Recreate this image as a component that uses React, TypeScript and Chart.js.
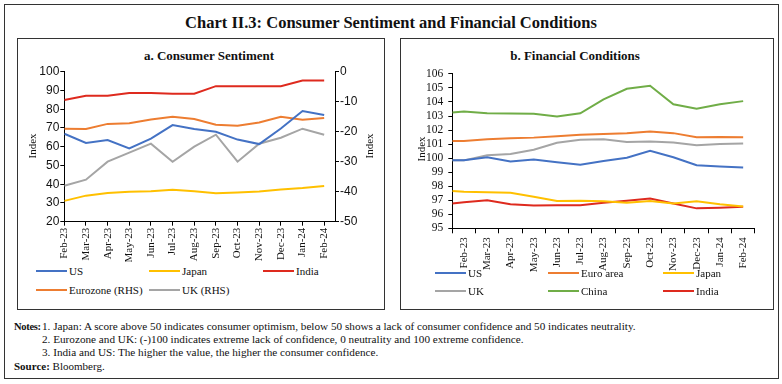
import React, { useEffect, useRef } from "react";
import { Chart, registerables } from "chart.js";
Chart.register(...registerables);

// ---------- Data ----------
const months = ["Feb-23", "Mar-23", "Apr-23", "May-23", "Jun-23", "Jul-23", "Aug-23", "Sep-23", "Oct-23", "Nov-23", "Dec-23", "Jan-24", "Feb-24"];

// a. Consumer Sentiment
const csUS = [66.9, 62.0, 63.6, 59.1, 64.3, 71.5, 69.4, 68.0, 63.8, 61.4, 69.7, 79.0, 76.9];
const csJapan = [31.1, 33.9, 35.3, 36.0, 36.2, 37.1, 36.2, 35.2, 35.6, 36.1, 37.2, 38.0, 39.1];
const csIndia = [84.9, 87.2, 87.2, 88.7, 88.7, 88.3, 88.3, 92.3, 92.3, 92.3, 92.3, 95.3, 95.3];
const csEurozone = [-19.0, -19.1, -17.4, -17.2, -15.9, -15.0, -15.8, -17.7, -18.0, -16.9, -15.0, -16.0, -15.4];
const csUK = [-38, -36, -30, -27, -24, -30, -25, -21, -30, -24, -22, -19, -21];

// b. Financial Conditions (first value = opening reading of the period, then one per month)
const fcUS = [99.84, 99.84, 100.06, 99.76, 99.9, 99.71, 99.52, 99.8, 100.03, 100.52, 100.06, 99.49, 99.4, 99.33];
const fcEuroArea = [101.22, 101.22, 101.35, 101.42, 101.46, 101.55, 101.66, 101.72, 101.77, 101.9, 101.78, 101.49, 101.51, 101.49];
const fcJapan = [97.65, 97.6, 97.56, 97.53, 97.25, 96.95, 96.97, 96.93, 96.82, 96.95, 96.77, 96.93, 96.72, 96.55];
const fcUK = [99.84, 99.84, 100.2, 100.3, 100.6, 101.1, 101.3, 101.35, 101.15, 101.18, 101.12, 100.92, 101.0, 101.05];
const fcChina = [103.25, 103.32, 103.2, 103.18, 103.16, 102.96, 103.19, 104.18, 104.94, 105.15, 103.84, 103.52, 103.83, 104.06];
const fcIndia = [96.77, 96.85, 97.0, 96.72, 96.62, 96.64, 96.64, 96.82, 96.97, 97.12, 96.76, 96.42, 96.46, 96.53];

// ---------- Styles ----------
const C_BLUE = "#4472C4";
const C_ORANGE = "#ED7D31";
const C_GRAY = "#A5A5A5";
const C_YELLOW = "#FFC000";
const C_GREEN = "#70AD47";
const C_RED = "#DE2A1E";
const SERIF = "'Liberation Serif', serif";
const SANS = "'Liberation Sans', sans-serif";

function series(label: string, values: number[], color: string, xOf: (i: number) => number, axis = "y") {
  return {
    label,
    data: values.map((v, i) => ({ x: xOf(i), y: v })),
    borderColor: color,
    backgroundColor: color,
    borderWidth: 2,
    pointRadius: 0,
    tension: 0,
    fill: false,
    yAxisID: axis,
  };
}

const axisGrid = { drawOnChartArea: false, color: "#000", tickLength: 4, lineWidth: 1 };
const axisBorder = { color: "#000", width: 1 };

function leftConfig(): any {
  const xi = (i: number) => i;
  return {
    type: "line",
    data: {
      datasets: [
        series("US", csUS, C_BLUE, xi),
        series("Japan", csJapan, C_YELLOW, xi),
        series("India", csIndia, C_RED, xi),
        series("Eurozone (RHS)", csEurozone, C_ORANGE, xi, "y1"),
        series("UK (RHS)", csUK, C_GRAY, xi, "y1"),
      ],
    },
    options: {
      animation: false,
      responsive: false,
      layout: { padding: { top: 9.7, right: 0, bottom: 0, left: 0 } },
      plugins: { legend: { display: false }, tooltip: { enabled: false } },
      scales: {
        x: {
          type: "linear",
          min: 0,
          max: 12.5,
          afterBuildTicks: (s: any) => {
            s.ticks = months.map((_, i) => ({ value: i }));
          },
          afterFit: (s: any) => {
            s.height = 40.3;
          },
          ticks: {
            autoSkip: false,
            minRotation: 90,
            maxRotation: 90,
            padding: 2,
            color: "#111",
            font: { family: SERIF, size: 11 },
            callback: (v: any) => months[v] ?? "",
          },
          grid: axisGrid,
          border: axisBorder,
        },
        y: {
          position: "left",
          min: 20,
          max: 100,
          afterFit: (s: any) => {
            s.width = 44.3;
          },
          ticks: { stepSize: 10, autoSkip: false, padding: 1, color: "#111", font: { family: SANS, size: 12 } },
          grid: axisGrid,
          border: axisBorder,
        },
        y1: {
          position: "right",
          min: -50,
          max: 0,
          afterFit: (s: any) => {
            s.width = 45;
          },
          ticks: { stepSize: 10, autoSkip: false, padding: 1, color: "#111", font: { family: SANS, size: 12 } },
          grid: axisGrid,
          border: axisBorder,
        },
      },
    },
  };
}

function rightConfig(): any {
  const xi = (i: number) => (i === 0 ? -0.5 : i - 1);
  const tickVals: number[] = [];
  for (let i = 0; i <= 26; i++) tickVals.push(-0.5 + i * 0.5);
  return {
    type: "line",
    data: {
      datasets: [
        series("US", fcUS, C_BLUE, xi),
        series("Euro area", fcEuroArea, C_ORANGE, xi),
        series("Japan", fcJapan, C_YELLOW, xi),
        series("UK", fcUK, C_GRAY, xi),
        series("China", fcChina, C_GREEN, xi),
        series("India", fcIndia, C_RED, xi),
      ],
    },
    options: {
      animation: false,
      responsive: false,
      layout: { padding: { top: 9.7, right: 17, bottom: 0, left: 0 } },
      plugins: { legend: { display: false }, tooltip: { enabled: false } },
      scales: {
        x: {
          type: "linear",
          min: -0.5,
          max: 12.5,
          afterBuildTicks: (s: any) => {
            s.ticks = tickVals.map((v) => ({ value: v }));
          },
          afterFit: (s: any) => {
            s.height = 43.7;
          },
          ticks: {
            autoSkip: false,
            minRotation: 90,
            maxRotation: 90,
            padding: 4,
            color: "#111",
            font: { family: SERIF, size: 11 },
            callback: (v: any) => (Number.isInteger(v) ? months[v] ?? "" : ""),
          },
          grid: {
            ...axisGrid,
            tickLength: 5,
            tickColor: (ctx: any) => (ctx.tick && !Number.isInteger(ctx.tick.value) ? "#000" : "rgba(0,0,0,0)"),
          },
          border: axisBorder,
        },
        y: {
          position: "left",
          min: 95,
          max: 106,
          afterFit: (s: any) => {
            s.width = 50.3;
          },
          ticks: { stepSize: 1, autoSkip: false, padding: 5, color: "#111", font: { family: SERIF, size: 11.5 } },
          grid: axisGrid,
          border: axisBorder,
        },
      },
    },
  };
}

function ChartCanvas({ config, left, top, width, height }: { config: () => any; left: number; top: number; width: number; height: number }) {
  const ref = useRef<HTMLCanvasElement>(null);
  useEffect(() => {
    const chart = new Chart(ref.current as HTMLCanvasElement, config());
    return () => chart.destroy();
  }, []);
  return <canvas ref={ref} width={width} height={height} style={{ position: "absolute", left, top, width, height }} />;
}

function Txt({ x, y, children, size = 11, bold = false, center = false, rotate = false, family = SERIF, spacing = 0 }: any) {
  const tf = [center ? "translate(-50%, -50%)" : "translate(0, -50%)", rotate ? "rotate(-90deg)" : ""].join(" ");
  return (
    <div
      style={{
        position: "absolute",
        left: x,
        top: y,
        transform: tf,
        fontFamily: family,
        fontSize: size,
        fontWeight: bold ? "bold" : "normal",
        letterSpacing: spacing,
        whiteSpace: "nowrap",
        color: "#111",
        lineHeight: 1,
      }}
    >
      {children}
    </div>
  );
}

function LegendItem({ x, y, color, label }: { x: number; y: number; color: string; label: string }) {
  return (
    <>
      <div style={{ position: "absolute", left: x, top: y - 1, width: 31, height: 2, background: color }} />
      <Txt x={x + 33} y={y} size={11}>
        {label}
      </Txt>
    </>
  );
}

function Box({ l, t, r, b, w = 1.5 }: any) {
  return <div style={{ position: "absolute", left: l, top: t, width: r - l, height: b - t, border: `${w}px solid #333`, boxSizing: "border-box" }} />;
}

export default function App() {
  return (
    <div style={{ position: "absolute", left: 0, top: 0, width: 782, height: 384, background: "#fff", overflow: "hidden" }}>
      <Box l={4} t={4} r={779} b={379} />
      <Box l={17} t={38} r={385} b={310} />
      <Box l={400} t={38} r={774} b={310} />

      <Txt x={391} y={23} size={16.5} bold center>
        Chart II.3: Consumer Sentiment and Financial Conditions
      </Txt>
      <Txt x={209} y={55} size={13} bold center>
        a. Consumer Sentiment
      </Txt>
      <Txt x={575} y={55} size={13} bold center>
        b. Financial Conditions
      </Txt>

      <ChartCanvas config={leftConfig} left={20} top={62} width={360} height={200} />
      <ChartCanvas config={rightConfig} left={402} top={62} width={370} height={210} />

      <Txt x={31.5} y={146} size={11} center rotate>
        Index
      </Txt>
      <Txt x={368.5} y={146} size={11} center rotate>
        Index
      </Txt>
      <Txt x={420.5} y={149} size={11} center rotate>
        Index
      </Txt>

      <LegendItem x={36} y={271} color={C_BLUE} label="US" />
      <LegendItem x={149} y={271} color={C_YELLOW} label="Japan" />
      <LegendItem x={263} y={271} color={C_RED} label="India" />
      <LegendItem x={36} y={290} color={C_ORANGE} label="Eurozone (RHS)" />
      <LegendItem x={149} y={290} color={C_GRAY} label="UK (RHS)" />

      <LegendItem x={435} y={273} color={C_BLUE} label="US" />
      <LegendItem x={548} y={273} color={C_ORANGE} label="Euro area" />
      <LegendItem x={663} y={273} color={C_YELLOW} label="Japan" />
      <LegendItem x={435} y={291} color={C_GRAY} label="UK" />
      <LegendItem x={548} y={291} color={C_GREEN} label="China" />
      <LegendItem x={663} y={291} color={C_RED} label="India" />

      <Txt x={14} y={327} size={10.5} bold spacing={-0.3}>
        Notes:
      </Txt>
      <Txt x={42} y={327} size={11.2}>
        1. Japan: A score above 50 indicates consumer optimism, below 50 shows a lack of consumer confidence and 50 indicates neutrality.
      </Txt>
      <Txt x={42} y={340} size={11.2}>
        2. Eurozone and UK: (-)100 indicates extreme lack of confidence, 0 neutrality and 100 extreme confidence.
      </Txt>
      <Txt x={42} y={353} size={11.2}>
        3. India and US: The higher the value, the higher the consumer confidence.
      </Txt>
      <div style={{ position: "absolute", left: 14, top: 366, transform: "translate(0,-50%)", fontFamily: SERIF, fontSize: 11, color: "#111", lineHeight: 1, whiteSpace: "nowrap" }}>
        <b>Source:</b> Bloomberg.
      </div>
    </div>
  );
}
